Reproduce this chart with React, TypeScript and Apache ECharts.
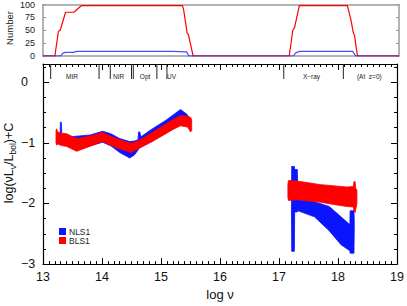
import React, { useEffect, useRef } from 'react';
import * as echarts from 'echarts';

const FONT = 'Liberation Sans, Arial, sans-serif';
const BLUE = '#0a14ff';
const RED = '#ff0000';

// ---- top panel: number of objects covering each frequency ----
const countXBLS = [13, 13.2, 13.26, 13.29, 13.38, 13.52, 13.65, 15.35, 15.37, 15.43, 15.45, 15.53, 17.15, 17.21, 17.24, 17.32, 18.13, 18.19, 18.23, 18.25, 18.3, 19];
const countBLS = [0, 0, 48, 50, 85, 85, 98, 98, 90, 44, 42, 0, 0, 50, 55, 98, 98, 70, 45, 40, 0, 0];
const countXNLS = [13, 13.3, 13.33, 13.37, 13.51, 13.57, 15.19, 15.42, 15.46, 17.22, 17.26, 17.32, 18.22, 18.27, 19];
const countNLS = [0, 0, 5, 7, 7, 9, 9, 8, 0, 0, 6, 9, 9, 0, 0];
const countTicks = [0, 25, 50, 75, 100];

// ---- bottom panel: SED envelopes (upper / lower) ----
const nlsOptX = [13.24, 13.29, 13.295, 13.31, 13.32, 13.45, 13.57, 13.8, 14.01, 14.15, 14.3, 14.47, 14.55, 14.61, 14.62, 14.64, 14.66, 14.85, 15.08, 15.33, 15.44, 15.47];
const nlsOptHi = [-0.86, -0.86, -0.66, -0.66, -0.88, -0.9, -0.89, -0.87, -0.81, -0.85, -0.93, -0.98, -0.97, -0.95, -0.82, -0.82, -0.9, -0.77, -0.63, -0.45, -0.53, -0.58];
const nlsOptLo = [-1.0, -1.02, -1.02, -1.02, -1.02, -1.06, -1.1, -1.05, -0.99, -1.05, -1.16, -1.25, -1.2, -1.12, -1.1, -1.08, -1.07, -0.97, -0.84, -0.7, -0.72, -0.75];

const nlsXrX = [17.21, 17.215, 17.26, 17.265, 17.31, 17.32, 17.6, 17.85, 18.05, 18.2, 18.205, 18.27, 18.275];
const nlsXrHi = [-1.9, -1.39, -1.39, -1.44, -1.44, -1.9, -1.97, -2.05, -2.22, -2.35, -2.12, -2.12, -2.3];
const nlsXrLo = [-2.0, -2.79, -2.79, -2.14, -2.14, -2.12, -2.22, -2.45, -2.68, -2.78, -2.82, -2.82, -2.4];

const blsOptX = [13.22, 13.23, 13.25, 13.3, 13.4, 13.57, 13.79, 14.01, 14.24, 14.4, 14.49, 14.55, 14.63, 14.85, 15.08, 15.2, 15.33, 15.45, 15.5, 15.52];
const blsOptHi = [-0.8, -0.77, -0.82, -0.84, -0.85, -0.93, -0.89, -0.83, -0.93, -0.98, -1.01, -0.99, -0.96, -0.83, -0.69, -0.62, -0.55, -0.56, -0.58, -0.62];
const blsOptLo = [-1.0, -1.04, -1.02, -1.04, -1.06, -1.14, -1.06, -0.98, -1.08, -1.13, -1.16, -1.13, -1.09, -0.98, -0.85, -0.78, -0.72, -0.74, -0.82, -0.8];

const blsXrX = [17.15, 17.16, 17.3, 17.5, 17.71, 17.95, 18.15, 18.26, 18.27, 18.29, 18.3, 18.32];
const blsXrHi = [-1.68, -1.62, -1.63, -1.66, -1.69, -1.71, -1.73, -1.72, -1.64, -1.64, -1.75, -1.78];
const blsXrLo = [-1.9, -1.95, -1.94, -1.96, -1.98, -2.02, -2.05, -2.06, -2.12, -2.15, -2.1, -2.0];

// ---- band markers on top axis ----
const bandEdges = [13.13, 13.95, 14.14, 14.5, 14.53, 14.93, 15.1, 17.08, 18.09];
const bandNames = ['MIR', 'NIR', 'Opt', 'UV', 'X\u2212ray', '(At  z=0)'];
const bandLabelX = [13.49, 14.28, 14.73, 15.18, 17.55, 18.53];

const Y_TOP = 0.3;

function bandSeries(name: string, xs: number[], hi: number[], lo: number[], color: string) {
  return {
    type: 'custom',
    name,
    xAxisIndex: 2,
    yAxisIndex: 2,
    itemStyle: { color },
    data: [[xs[0], hi[0]]],
    encode: { x: 0, y: 1 },
    renderItem: (_p: any, api: any) => {
      const pts: number[][] = [];
      for (let i = 0; i < xs.length; i++) pts.push(api.coord([xs[i], hi[i]]));
      for (let i = xs.length - 1; i >= 0; i--) pts.push(api.coord([xs[i], lo[i]]));
      return {
        type: 'polygon',
        shape: { points: pts },
        style: { fill: color, stroke: color, lineWidth: 0.8 },
      };
    },
  };
}

function fmtY(v: number) {
  if (Math.abs(v - Math.round(v)) > 1e-6) return '';
  const r = Math.round(v);
  return r < 0 ? '\u2212' + -r : String(r);
}

export default function App() {
  const ref = useRef<HTMLDivElement>(null);
  useEffect(() => {
    const chart = echarts.init(ref.current!, null, { renderer: 'svg' });
    const gray = '#9a9a9a';
    const black = '#000';
    const option: any = {
      animation: false,
      backgroundColor: '#fff',
      textStyle: { fontFamily: FONT },
      grid: [
        { left: 43, right: 8, top: 3, height: 53 },
        { left: 43, right: 7, top: 64, bottom: 37 },
      ],
      legend: {
        data: ['NLS1', 'BLS1'],
        orient: 'vertical',
        left: 59,
        top: 227,
        icon: 'rect',
        itemWidth: 7,
        itemHeight: 7,
        itemGap: 0,
        padding: 0,
        textStyle: { fontSize: 8.5, color: '#222', fontFamily: FONT, lineHeight: 9, padding: [0, 0, 0, -2] },
      },
      xAxis: [
        { gridIndex: 0, type: 'value', min: 13, max: 19, interval: 1, position: 'bottom',
          axisLine: { show: true, onZero: false, lineStyle: { color: gray, width: 1.5 } },
          axisTick: { show: false }, axisLabel: { show: false }, splitLine: { show: false } },
        { gridIndex: 0, type: 'value', min: 13, max: 19, interval: 1, position: 'top',
          axisLine: { show: true, onZero: false, lineStyle: { color: gray, width: 1.5 } },
          axisTick: { show: false }, axisLabel: { show: false }, splitLine: { show: false } },
        { gridIndex: 1, type: 'value', min: 13, max: 19, interval: 1, position: 'bottom',
          name: 'log \u03bd', nameLocation: 'middle', nameGap: 21,
          nameTextStyle: { fontSize: 13, color: '#111', fontFamily: FONT },
          axisLine: { show: true, onZero: false, lineStyle: { color: black, width: 1.2 } },
          axisTick: { show: true, inside: true, length: 6, lineStyle: { color: black } },
          minorTick: { show: true, splitNumber: 10, length: 3, lineStyle: { color: black } },
          axisLabel: { show: true, margin: 6, fontSize: 12.5, color: '#111', fontFamily: FONT },
          splitLine: { show: false } },
        { gridIndex: 1, type: 'value', min: 13, max: 19, interval: 1, position: 'top',
          axisLine: { show: true, onZero: false, lineStyle: { color: black, width: 1.2 } },
          axisTick: { show: true, inside: true, length: 6, lineStyle: { color: black } },
          minorTick: { show: true, splitNumber: 10, length: 3, lineStyle: { color: black } },
          axisLabel: { show: false }, splitLine: { show: false } },
      ],
      yAxis: [
        { gridIndex: 0, type: 'value', min: 0, max: 100, interval: 25, position: 'left',
          axisLine: { show: true, onZero: false, lineStyle: { color: gray, width: 1.5 } },
          axisTick: { show: true, inside: true, length: 3, lineStyle: { color: gray } },
          axisLabel: { show: true, margin: 8, fontSize: 9, color: '#222', fontFamily: FONT,
            formatter: (v: number) => (countTicks.indexOf(v) >= 0 ? String(v) : '') },
          splitLine: { show: false } },
        { gridIndex: 0, type: 'value', min: 0, max: 100, interval: 25, position: 'right',
          axisLine: { show: true, onZero: false, lineStyle: { color: gray, width: 1.5 } },
          axisTick: { show: true, inside: true, length: 3, lineStyle: { color: gray } },
          axisLabel: { show: false }, splitLine: { show: false } },
        { gridIndex: 1, type: 'value', min: -3, max: Y_TOP, interval: 1, position: 'left',
          axisLine: { show: true, onZero: false, lineStyle: { color: black, width: 1.2 } },
          axisTick: { show: true, inside: true, length: 6, lineStyle: { color: black } },
          axisLabel: { show: true, margin: 22, align: 'left', fontSize: 12.5, color: '#111', fontFamily: FONT, formatter: fmtY },
          splitLine: { show: false } },
        { gridIndex: 1, type: 'value', min: -3, max: Y_TOP, interval: 0.25, position: 'left',
          axisLine: { show: false },
          axisTick: { show: true, inside: true, length: 3, lineStyle: { color: black } },
          axisLabel: { show: false }, splitLine: { show: false } },
        { gridIndex: 1, type: 'value', min: -3, max: Y_TOP, interval: 1, position: 'right',
          axisLine: { show: true, onZero: false, lineStyle: { color: black, width: 1.2 } },
          axisTick: { show: true, inside: true, length: 6, lineStyle: { color: black } },
          axisLabel: { show: false }, splitLine: { show: false } },
        { gridIndex: 1, type: 'value', min: -3, max: Y_TOP, interval: 0.25, position: 'right',
          axisLine: { show: false },
          axisTick: { show: true, inside: true, length: 3, lineStyle: { color: black } },
          axisLabel: { show: false }, splitLine: { show: false } },
      ],
      graphic: [
        { type: 'text', x: 9, y: 28, rotation: Math.PI / 2,
          style: { text: 'Number', fontSize: 9.5, fontFamily: FONT, fill: '#222', align: 'center', verticalAlign: 'middle' } },
        { type: 'text', x: 9, y: 163, rotation: Math.PI / 2,
          style: {
            text: '{a|log(\u03bdL}{s|\u03bd}{a|/L}{s|bol}{a|)+C}',
            align: 'center', verticalAlign: 'middle', fontFamily: FONT, fill: '#111',
            rich: {
              a: { fontSize: 12.5, fontFamily: FONT, lineHeight: 16, fill: '#111' },
              s: { fontSize: 8.5, fontFamily: FONT, lineHeight: 8, verticalAlign: 'bottom', fill: '#111' },
            },
          } },
      ],
      series: [
        { type: 'line', name: 'BLS count', xAxisIndex: 0, yAxisIndex: 0, showSymbol: false,
          lineStyle: { color: RED, width: 1.2 }, itemStyle: { color: RED },
          data: countXBLS.map((x, i) => [x, countBLS[i]]) },
        { type: 'line', name: 'NLS count', xAxisIndex: 0, yAxisIndex: 0, showSymbol: false,
          lineStyle: { color: BLUE, width: 1.2, opacity: 0.75 }, itemStyle: { color: BLUE },
          data: countXNLS.map((x, i) => [x, countNLS[i]]) },
        bandSeries('NLS1', nlsOptX, nlsOptHi, nlsOptLo, BLUE),
        bandSeries('NLS1', nlsXrX, nlsXrHi, nlsXrLo, BLUE),
        bandSeries('BLS1', blsOptX, blsOptHi, blsOptLo, RED),
        bandSeries('BLS1', blsXrX, blsXrHi, blsXrLo, RED),
        {
          type: 'custom', name: 'edges', xAxisIndex: 2, yAxisIndex: 2,
          data: bandEdges.map((x) => [x, Y_TOP]),
          encode: { x: 0, y: 1 },
          renderItem: (_p: any, api: any) => {
            const p = api.coord([api.value(0), api.value(1)]);
            return { type: 'line', shape: { x1: p[0], y1: p[1], x2: p[0], y2: p[1] + 15 },
              style: { stroke: '#222', lineWidth: 1 } };
          },
        },
        {
          type: 'custom', name: 'bands', xAxisIndex: 2, yAxisIndex: 2,
          data: bandLabelX.map((x) => [x, Y_TOP]),
          encode: { x: 0, y: 1 },
          renderItem: (p: any, api: any) => {
            const c = api.coord([api.value(0), api.value(1)]);
            return { type: 'text', x: c[0], y: c[1] + 12,
              style: { text: bandNames[p.dataIndex], fontSize: 6.5, fontFamily: FONT, fill: '#222',
                align: 'center', verticalAlign: 'middle' } };
          },
        },
      ],
    };
    chart.setOption(option);
    return () => chart.dispose();
  }, []);
  return <div ref={ref} style={{ position: 'fixed', left: 0, top: 0, width: 407, height: 306, background: '#fff' }} />;
}
